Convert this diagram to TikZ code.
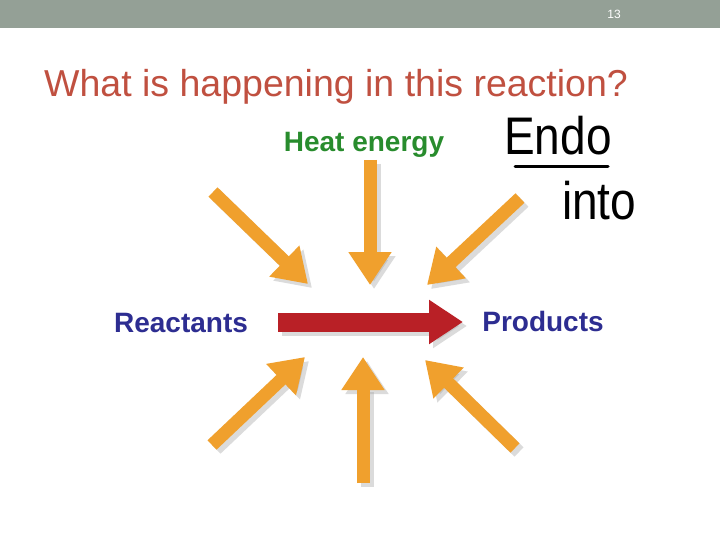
\documentclass[tikz,border=0pt]{standalone}
\usepackage{fontspec}
\setmainfont{Liberation Sans}
\usetikzlibrary{arrows.meta}
\definecolor{hdr}{RGB}{148,160,150}
\definecolor{ttl}{RGB}{192,80,64}
\definecolor{orng}{RGB}{240,160,45}
\definecolor{rred}{RGB}{185,32,38}
\definecolor{grn}{RGB}{40,140,45}
\definecolor{navy}{RGB}{45,45,145}
\tikzset{
  heat/.style={draw=orng, line width=13pt, -{Triangle[width=41pt,length=33pt]}},
  shad/.style={draw=black!35, opacity=0.4, line width=13pt, -{Triangle[width=41pt,length=33pt]}, transform canvas={shift={(4pt,-4pt)}}},
  rxn/.style={draw=rred, line width=19pt, -{Triangle[width=42pt,length=34pt]}},
  rshad/.style={draw=black!35, opacity=0.4, line width=19pt, -{Triangle[width=42pt,length=34pt]}, transform canvas={shift={(4pt,-4pt)}}},
  lbl/.style={font=\bfseries\fontsize{28}{30}\selectfont, inner sep=0pt},
  hand/.style={font=\fontsize{46}{48}\selectfont, inner sep=0pt, yscale=1.15}
}
\begin{document}
\begin{tikzpicture}[x=1pt,y=-1pt]
\useasboundingbox (0,0) rectangle (720,540);
\fill[white] (0,0) rectangle (720,540);
\fill[hdr] (0,0) rectangle (720,28);
\node[text=white, font=\fontsize{12}{14}\selectfont, inner sep=0pt] (pg) at (614,14) {13};
\node[text=ttl, font=\fontsize{37.5}{40}\selectfont, inner sep=0pt, anchor=base west] (title) at (44,97) {What is happening in this reaction?};

\node[lbl, text=grn] (heat) at (364,145) {Heat energy};
\node[lbl, text=navy] (react) at (181,323) {Reactants};
\node[lbl, text=navy] (prod) at (543,321) {Products};

\node[hand, anchor=base west] (endo) at (504,155) {Endo};
\coordinate (ul1) at (515,167);
\coordinate (ul2) at (608,167);
\draw[line width=3pt, line cap=round] (ul1) -- (ul2);
\node[hand, anchor=base west] (into) at (562,219) {into};

% arrow end points
\coordinate (tlA) at (213,192); \coordinate (tlB) at (308,284);
\coordinate (tcA) at (370,160); \coordinate (tcB) at (370,285);
\coordinate (trA) at (520,198); \coordinate (trB) at (427,285);
\coordinate (blA) at (212,445); \coordinate (blB) at (305,357);
\coordinate (bcA) at (363,483); \coordinate (bcB) at (363,357);
\coordinate (brA) at (515,448); \coordinate (brB) at (425,360);
\coordinate (rA) at (278,322); \coordinate (rB) at (463,322);

\foreach \a/\b in {tlA/tlB,tcA/tcB,trA/trB,blA/blB,bcA/bcB,brA/brB}{
  \draw[shad] (\a) -- (\b);
}
\draw[rshad] (rA) -- (rB);
\foreach \a/\b in {tlA/tlB,tcA/tcB,trA/trB,blA/blB,bcA/bcB,brA/brB}{
  \draw[heat] (\a) -- (\b);
}
\draw[rxn] (rA) -- (rB);
\end{tikzpicture}
\end{document}
